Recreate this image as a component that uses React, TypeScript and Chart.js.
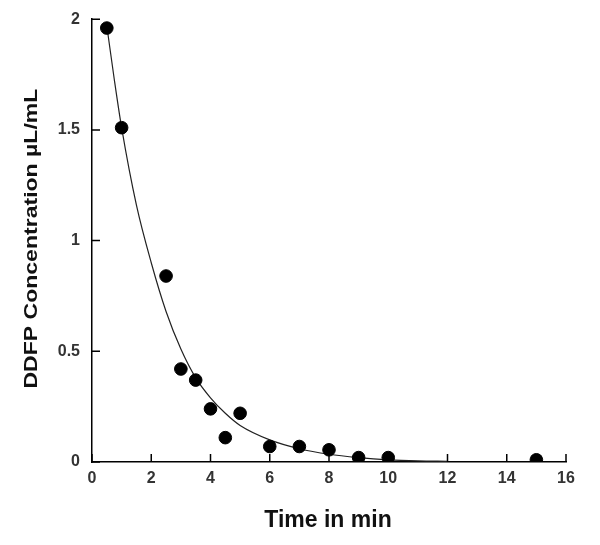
import React, { useEffect, useRef } from "react";
import { Chart, registerables } from "chart.js";

Chart.register(...registerables);

const timeMin = [0.5, 1, 2.5, 3, 3.5, 4, 4.5, 5, 6, 7, 8, 9, 10, 15];
const concentration = [1.96, 1.51, 0.84, 0.42, 0.37, 0.24, 0.11, 0.22, 0.07, 0.07, 0.055, 0.02, 0.02, 0.01];

const fitTime = [0.5, 0.75, 1, 1.5, 2, 2.5, 3, 3.5, 4, 4.5, 5, 6, 7, 8, 9, 10, 11, 12];
const fitConc = [1.97, 1.73, 1.51, 1.16, 0.9, 0.68, 0.51, 0.38, 0.29, 0.22, 0.165, 0.1, 0.06, 0.035, 0.02, 0.01, 0.005, 0.003];

const xTicks = [0, 2, 4, 6, 8, 10, 12, 14, 16];
const yTicks = [0, 0.5, 1, 1.5, 2];

const xTitle = "Time in min";
const yTitle = "DDFP Concentration µL/mL";

const FONT = "'Liberation Sans', Arial, sans-serif";

const inwardTicks = {
  id: "inwardTicks",
  afterDraw(chart: any) {
    const { ctx, chartArea, scales } = chart;
    const len = 8;
    ctx.save();
    ctx.strokeStyle = "#000";
    ctx.lineWidth = 1.5;
    ctx.beginPath();
    for (const v of xTicks) {
      const px = scales.x.getPixelForValue(v);
      ctx.moveTo(px, chartArea.bottom);
      ctx.lineTo(px, chartArea.bottom - len);
    }
    for (const v of yTicks) {
      const py = scales.y.getPixelForValue(v);
      ctx.moveTo(chartArea.left, py);
      ctx.lineTo(chartArea.left + len, py);
    }
    ctx.stroke();

    // axis titles
    ctx.fillStyle = "#111";
    ctx.textAlign = "center";
    ctx.textBaseline = "alphabetic";
    ctx.font = `bold 23px ${FONT}`;
    const cx = (chartArea.left + chartArea.right) / 2 - 1;
    ctx.fillText(xTitle, cx, 527);

    const cy = (chartArea.top + chartArea.bottom) / 2 - 2;
    ctx.save();
    ctx.translate(37, cy);
    ctx.rotate(-Math.PI / 2);
    ctx.font = `bold 17.5px ${FONT}`;
    const w = ctx.measureText(yTitle).width;
    const sx = 300 / w;
    ctx.scale(sx, 1);
    ctx.fillText(yTitle, 0, 0);
    ctx.restore();
    ctx.restore();
  },
};

export default function App() {
  const ref = useRef<HTMLCanvasElement | null>(null);
  useEffect(() => {
    document.body.style.margin = "0";
    const canvas = ref.current;
    if (!canvas) return;
    const chart = new Chart(canvas, {
      type: "scatter",
      data: {
        datasets: [
          {
            label: "Measured",
            data: timeMin.map((t, i) => ({ x: t, y: concentration[i] })),
            backgroundColor: "#000",
            borderColor: "#000",
            pointRadius: 6.3,
            pointHoverRadius: 6.3,
            showLine: false,
            order: 1,
          },
          {
            label: "Fit",
            data: fitTime.map((t, i) => ({ x: t, y: fitConc[i] })),
            showLine: true,
            borderColor: "#222",
            borderWidth: 1.2,
            pointRadius: 0,
            cubicInterpolationMode: "monotone",
            order: 2,
          } as any,
        ],
      },
      options: {
        animation: false,
        responsive: false,
        maintainAspectRatio: false,
        layout: { padding: { top: 18, right: 34, left: 0, bottom: 0 } },
        plugins: { legend: { display: false }, tooltip: { enabled: false } },
        scales: {
          x: {
            type: "linear",
            min: 0,
            max: 16,
            afterFit: (s: any) => {
              s.height = 83;
            },
            afterBuildTicks: (s: any) => {
              s.ticks = xTicks.map((v) => ({ value: v }));
            },
            grid: { display: false, drawTicks: false },
            border: { display: true, color: "#000", width: 1.5 },
            ticks: {
              padding: 7,
              color: "#333",
              maxRotation: 0,
              callback: (v: any) => String(v),
              font: { family: FONT, size: 16, weight: "bold" },
            },
          },
          y: {
            type: "linear",
            min: 0,
            max: 2,
            afterFit: (s: any) => {
              s.width = 92;
            },
            afterBuildTicks: (s: any) => {
              s.ticks = yTicks.map((v) => ({ value: v }));
            },
            grid: { display: false, drawTicks: false },
            border: { display: true, color: "#000", width: 1.5 },
            ticks: {
              padding: 12,
              color: "#333",
              callback: (v: any) => String(v),
              font: { family: FONT, size: 16, weight: "bold", lineHeight: 0.9 },
            },
          },
        },
      },
      plugins: [inwardTicks],
    });
    return () => chart.destroy();
  }, []);
  return (
    <div style={{ width: 600, height: 545, position: "relative" }}>
      <canvas ref={ref} width={600} height={545} style={{ width: 600, height: 545, display: "block" }} />
    </div>
  );
}
